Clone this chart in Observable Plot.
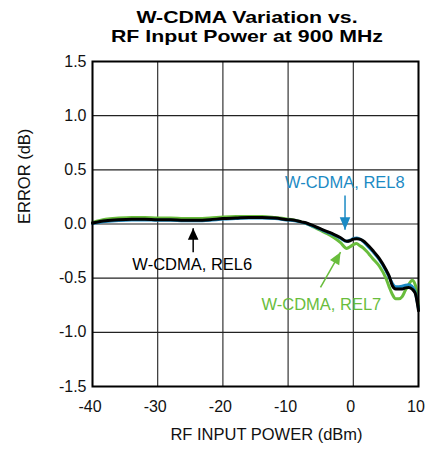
<!DOCTYPE html>
<html>
<head>
<meta charset="utf-8">
<script src="https://cdn.jsdelivr.net/npm/d3@7"></script>
<script src="https://cdn.jsdelivr.net/npm/@observablehq/plot@0.6"></script>
<style>
  html, body { margin: 0; padding: 0; background: #fff; overflow: hidden; }
  .title {
    position: absolute; left: 0; width: 494px; text-align: center; white-space: nowrap;
    font: bold 16.5px "Liberation Sans", Arial, sans-serif;
    line-height: 16.5px; height: 16.5px; color: #000;
    transform: scaleX(1.29); transform-origin: 247px 0;
  }
  #t1 { top: 9.4px; }
  #t2 { top: 28.4px; }
  #chart { position: absolute; left: 0; top: 50px; }
</style>
</head>
<body>
<div class="title" id="t1">W-CDMA Variation vs.</div>
<div class="title" id="t2">RF Input Power at 900 MHz</div>
<div id="chart"></div>
<script>
// ---- data ----
const inputPower = [-40,-38,-36,-34,-32,-30,-28,-26,-24,-22,-20,-18,-16,-14,-12,-10,-9,-8,-7,-6,-5,-4,-3,-2,-1,-0.5,0,0.5,1,1.5,2,3,4,5,5.5,6,6.5,7,7.5,8,8.5,9,9.5,10];
const rel6 = [0.01,0.03,0.04,0.045,0.045,0.04,0.04,0.035,0.035,0.04,0.05,0.055,0.06,0.06,0.055,0.04,0.035,0.02,0.005,-0.02,-0.045,-0.07,-0.095,-0.125,-0.16,-0.155,-0.14,-0.135,-0.14,-0.155,-0.18,-0.245,-0.32,-0.42,-0.48,-0.57,-0.6,-0.6,-0.6,-0.59,-0.585,-0.6,-0.64,-0.8];
const rel7 = [0.015,0.045,0.055,0.06,0.06,0.055,0.055,0.05,0.05,0.055,0.065,0.07,0.07,0.07,0.06,0.045,0.035,0.02,0.0,-0.03,-0.06,-0.09,-0.125,-0.17,-0.225,-0.21,-0.19,-0.18,-0.2,-0.22,-0.25,-0.32,-0.39,-0.5,-0.58,-0.65,-0.69,-0.69,-0.67,-0.61,-0.56,-0.52,-0.56,-0.76];
const rel8 = [0.005,0.022,0.032,0.037,0.038,0.034,0.034,0.03,0.03,0.035,0.045,0.05,0.055,0.055,0.05,0.036,0.03,0.017,0.0,-0.025,-0.05,-0.075,-0.1,-0.13,-0.16,-0.15,-0.135,-0.13,-0.14,-0.16,-0.19,-0.255,-0.33,-0.43,-0.49,-0.55,-0.58,-0.58,-0.575,-0.565,-0.56,-0.575,-0.63,-0.78];
const seriesNames = ["W-CDMA, REL7", "W-CDMA, REL8", "W-CDMA, REL6"];
const xTicks = [-40,-30,-20,-10,0,10];
const yTicks = [-1.5,-1.0,-0.5,0.0,0.5,1.0,1.5];

// annotations (data coordinates)
const labelText = ["W-CDMA, REL8", "W-CDMA, REL6", "W-CDMA, REL7"];
const labelX = [-1.3, -24.7, -4.9];
const labelY = [0.38, -0.38, -0.745];
const arrowX1 = [-1.27, -24.56, -5.03];
const arrowY1 = [0.263, -0.26, -0.586];
const arrowX2 = [-1.27, -24.56, -1.96];
const arrowY2 = [-0.054, -0.039, -0.26];

// ---- build tables ----
const colors = {"W-CDMA, REL7": "#69bd3c", "W-CDMA, REL8": "#1b8ac4", "W-CDMA, REL6": "#000000"};
const seriesValues = [rel7, rel8, rel6];
const rows = [];
seriesNames.forEach((s, i) => inputPower.forEach((x, j) => rows.push({series: s, x, y: seriesValues[i][j]})));
const labels = labelText.map((t, i) => ({text: t, x: labelX[i], y: labelY[i]}));
const arrows = labelText.map((t, i) => ({series: t, x1: arrowX1[i], y1: arrowY1[i], x2: arrowX2[i], y2: arrowY2[i]}));
const headRotate = {"W-CDMA, REL8": 180, "W-CDMA, REL6": 0, "W-CDMA, REL7": 29.5};
const headLen = {"W-CDMA, REL8": 11.5, "W-CDMA, REL6": 10.5, "W-CDMA, REL7": 11};

const font = "'Liberation Sans', Arial, Helvetica, sans-serif";

const chart = Plot.plot({
  width: 425,
  height: 399,
  marginTop: 11,
  marginRight: 7,
  marginBottom: 63,
  marginLeft: 92,
  style: {fontFamily: font, fontSize: "16px", color: "#111", background: "#fff", overflow: "visible"},
  x: {domain: [-40, 10]},
  y: {domain: [-1.5, 1.5]},
  marks: [
    Plot.gridX(xTicks, {stroke: "#222", strokeOpacity: 1, strokeWidth: 1.1}),
    Plot.gridY(yTicks, {stroke: "#222", strokeOpacity: 1, strokeWidth: 1.1}),
    ...seriesNames.map(s => Plot.line(rows.filter(d => d.series === s), {
      x: "x", y: "y", stroke: colors[s], strokeWidth: 3, curve: "monotone-x"
    })),
    Plot.frame({stroke: "#000", strokeWidth: 2}),
    Plot.axisX(xTicks, {tickSize: 0, tickPadding: 14, dx: -2.5, tickFormat: d => String(d), label: null, fontSize: 16}),
    Plot.axisY(yTicks, {tickSize: 0, tickPadding: 6, tickFormat: d => d.toFixed(1), label: null, fontSize: 16}),
    Plot.text(["RF INPUT POWER (dBm)"], {frameAnchor: "bottom", dy: 53, dx: 11, fontSize: 16.5, fill: "#111"}),
    Plot.text(["ERROR (dB)"], {frameAnchor: "left", dx: -68, rotate: -90, fontSize: 16.5, fill: "#111"}),
    Plot.text(labels, {x: "x", y: "y", text: "text", fill: d => colors[d.text], fontSize: 16.5}),
    Plot.link(arrows, {x1: "x1", y1: "y1", x2: "x2", y2: "y2", stroke: d => colors[d.series], strokeWidth: 1.5}),
    Plot.vector(arrows, {
      x: "x2", y: "y2", shape: "spike", anchor: "end",
      length: d => headLen[d.series], r: 5.3,
      rotate: d => headRotate[d.series],
      fill: d => colors[d.series], stroke: "none"
    })
  ]
});
document.getElementById("chart").append(chart);
</script>
</body>
</html>
